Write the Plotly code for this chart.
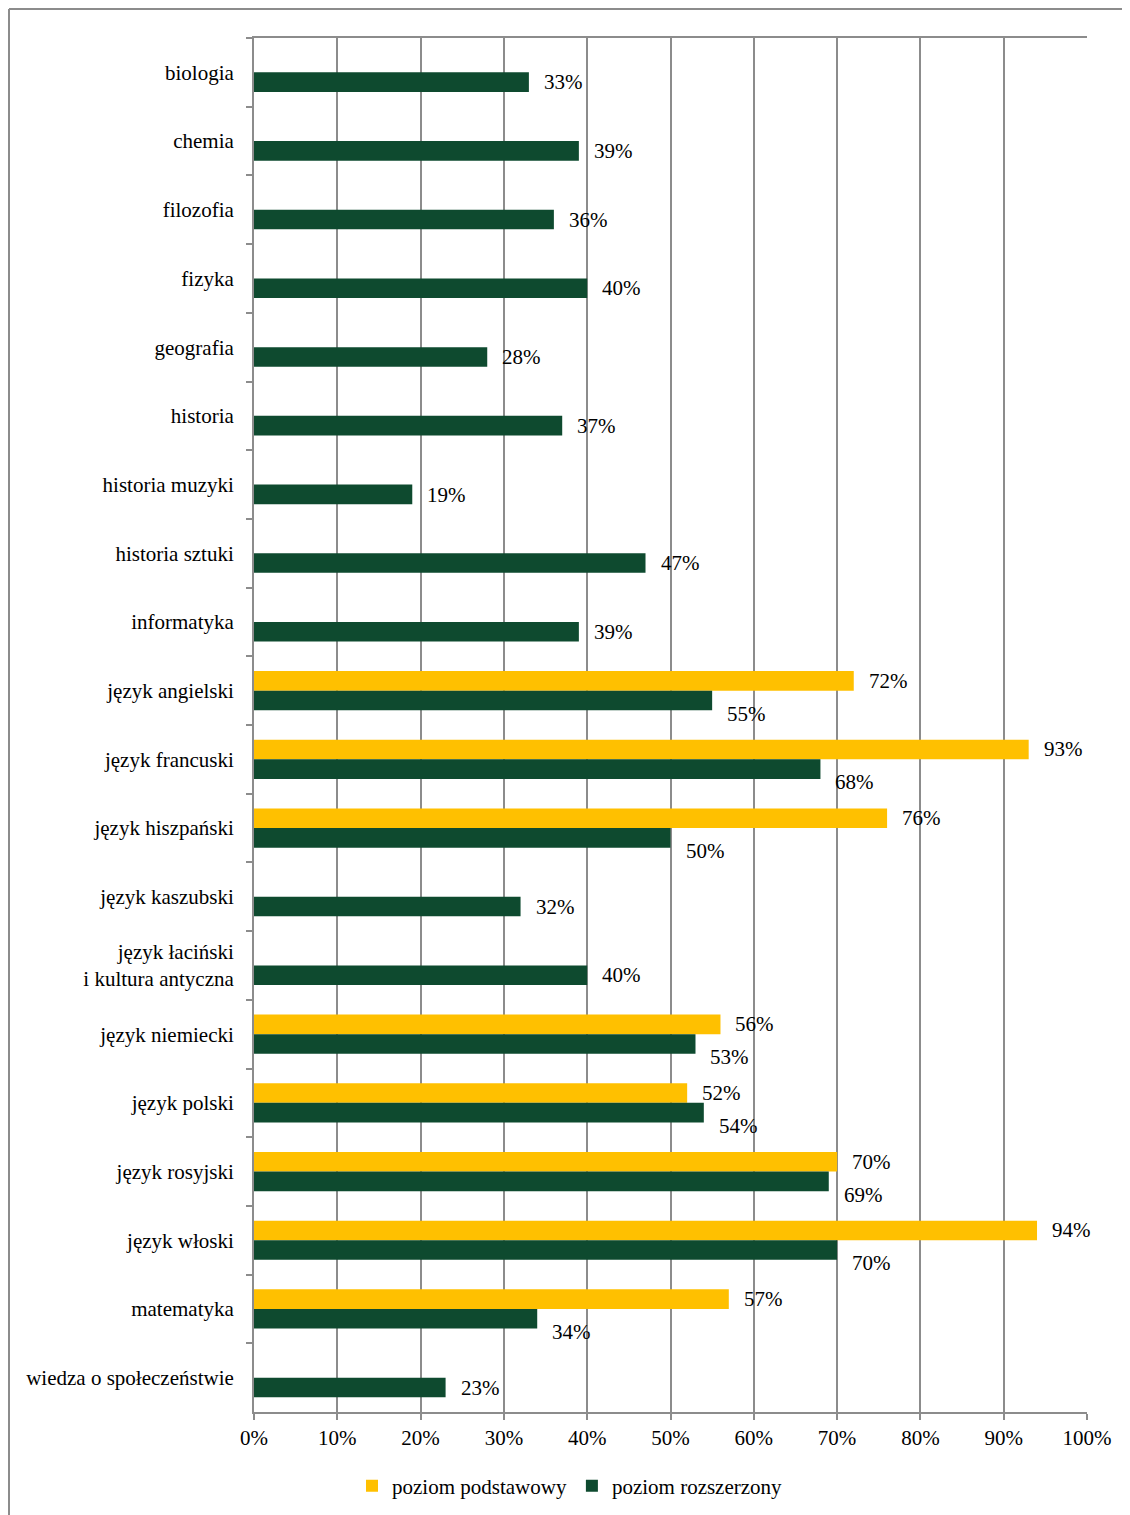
import plotly.graph_objects as go

categories = [
    "biologia", "chemia", "filozofia", "fizyka", "geografia", "historia",
    "historia muzyki", "historia sztuki", "informatyka", "język angielski",
    "język francuski", "język hiszpański", "język kaszubski",
    "język łaciński<br>i kultura antyczna", "język niemiecki", "język polski",
    "język rosyjski", "język włoski", "matematyka", "wiedza o społeczeństwie",
]
podstawowy = [None, None, None, None, None, None, None, None, None, 72,
              93, 76, None, None, 56, 52, 70, 94, 57, None]
rozszerzony = [33, 39, 36, 40, 28, 37, 19, 47, 39, 55,
               68, 50, 32, 40, 53, 54, 69, 70, 34, 23]
x_ticks = list(range(0, 101, 10))
x_tick_labels = [f"{v}%" for v in x_ticks]

YELLOW = "#FFC000"
GREEN = "#0E4A2F"
GRID = "#8C8C8C"
FONT = "Liberation Serif"
FS = 21

# page body has an 8px margin, so the figure starts at (8, 8)
W, H = 1122, 1507
ML, MR, MT, MB = 246, 43, 30, 103

fig = go.Figure()
fig.add_trace(go.Bar(name="poziom podstawowy", y=categories, x=podstawowy,
                     orientation="h", marker=dict(color=YELLOW, line=dict(width=0))))
fig.add_trace(go.Bar(name="poziom rozszerzony", y=categories, x=rozszerzony,
                     orientation="h", marker=dict(color=GREEN, line=dict(width=0))))

annotations = []
for cat, p, r in zip(categories, podstawowy, rozszerzony):
    if p is not None:
        annotations.append(dict(x=p, y=cat, text=f"{p}%", showarrow=False,
                                xanchor="left", yanchor="middle", xshift=13, yshift=10,
                                font=dict(family=FONT, size=FS, color="black")))
    if r is not None:
        ys = -23 if p is not None else -10
        annotations.append(dict(x=r, y=cat, text=f"{r}%", showarrow=False,
                                xanchor="left", yanchor="middle", xshift=13, yshift=ys,
                                font=dict(family=FONT, size=FS, color="black")))

pw = W - ML - MR
ph = H - MT - MB
x_left = (1 - ML) / pw
x_right = (W + 10 - ML) / pw
y_top = 1 + (MT - 1) / ph
y_bot = -(MB + 10) / ph

shapes = [
    dict(type="line", xref="paper", yref="paper", x0=x_left, x1=x_right, y0=y_top, y1=y_top,
         line=dict(color=GRID, width=2)),
    dict(type="line", xref="paper", yref="paper", x0=x_left, x1=x_left, y0=y_top, y1=y_bot,
         line=dict(color=GRID, width=2)),
]

fig.update_layout(
    width=W, height=H,
    margin=dict(l=ML, r=MR, t=MT, b=MB, pad=0),
    paper_bgcolor="white", plot_bgcolor="white",
    barmode="group", bargap=0.43, bargroupgap=0,
    font=dict(family=FONT, size=FS, color="black"),
    showlegend=True,
    legend=dict(orientation="h", xref="container", x=562 / W, xanchor="center",
                yref="container", y=(H - 1478) / H, yanchor="middle",
                font=dict(family=FONT, size=FS, color="black"),
                itemwidth=30, traceorder="normal"),
    annotations=annotations,
    shapes=shapes,
)
fig.update_xaxes(range=[0, 100], tickmode="array", tickvals=x_ticks, ticktext=x_tick_labels,
                 showgrid=True, gridcolor=GRID, gridwidth=2,
                 showline=True, linecolor=GRID, linewidth=2, mirror=True,
                 ticks="outside", ticklen=6, tickwidth=2, tickcolor=GRID,
                 zeroline=False, fixedrange=True,
                 tickfont=dict(family=FONT, size=FS, color="black"))
fig.update_yaxes(autorange="reversed", showgrid=False,
                 showline=True, linecolor=GRID, linewidth=2,
                 ticks="outside", tickson="boundaries", ticklen=6, tickwidth=2, tickcolor=GRID,
                 ticklabelstandoff=14,
                 tickfont=dict(family=FONT, size=FS, color="black"))

fig.write_html("out.html")
